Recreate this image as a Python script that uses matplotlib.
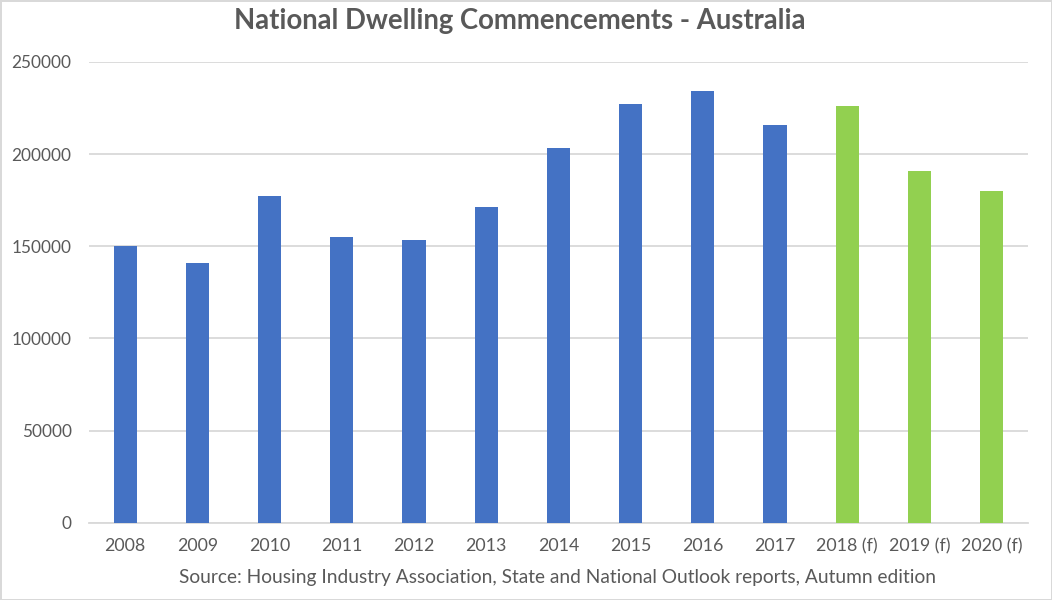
import numpy as np
import matplotlib.pyplot as plt

# Dwelling commencements per year
years = ["2008", "2009", "2010", "2011", "2012", "2013", "2014",
         "2015", "2016", "2017", "2018 (f)", "2019 (f)", "2020 (f)"]
commencements = [150000, 141000, 177000, 155000, 153500, 171500, 203500,
                 227000, 234000, 216000, 226000, 191000, 180000]
is_forecast = [False] * 10 + [True] * 3

y_ticks = [0, 50000, 100000, 150000, 200000, 250000]

BLUE = "#4472C4"
GREEN = "#92D050"
TEXT = "#595959"

plt.rcParams["font.family"] = ["Lato", "DejaVu Sans"]

fig = plt.figure(figsize=(10.52, 6), dpi=100)
fig.patch.set_edgecolor("#D9D9D9")
fig.patch.set_linewidth(2)
ax = fig.add_axes([0.0846, 0.1288, 0.8924, 0.768])

x = np.arange(len(years))
colors = [GREEN if f else BLUE for f in is_forecast]
ax.bar(x, commencements, width=0.32, color=colors, zorder=3)

ax.set_xlim(-0.5, len(years) - 0.5)
ax.set_ylim(0, 250000)
ax.set_yticks(y_ticks)
ax.set_yticklabels([str(v) for v in y_ticks])
ax.set_xticks(x)
ax.set_xticklabels(years)
ax.tick_params(axis="x", length=0, labelsize=12.8, colors=TEXT, pad=11)
ax.tick_params(axis="y", length=0, labelsize=12.4, colors=TEXT, pad=12.5)

ax.grid(axis="y", color="#D9D9D9", linewidth=1.3, zorder=0)
for s in ["top", "right", "left"]:
    ax.spines[s].set_visible(False)
ax.spines["bottom"].set_color("#D9D9D9")
ax.spines["bottom"].set_linewidth(1.3)

fig.text(0.494, 0.965, "National Dwelling Commencements - Australia",
         ha="center", va="center", fontsize=19.8, fontweight="bold", color=TEXT)
fig.text(0.53, 0.037,
         "Source: Housing Industry Association, State and National Outlook reports, Autumn edition",
         ha="center", va="center", fontsize=13.8, color=TEXT)

fig.savefig("out.png", dpi=100)
